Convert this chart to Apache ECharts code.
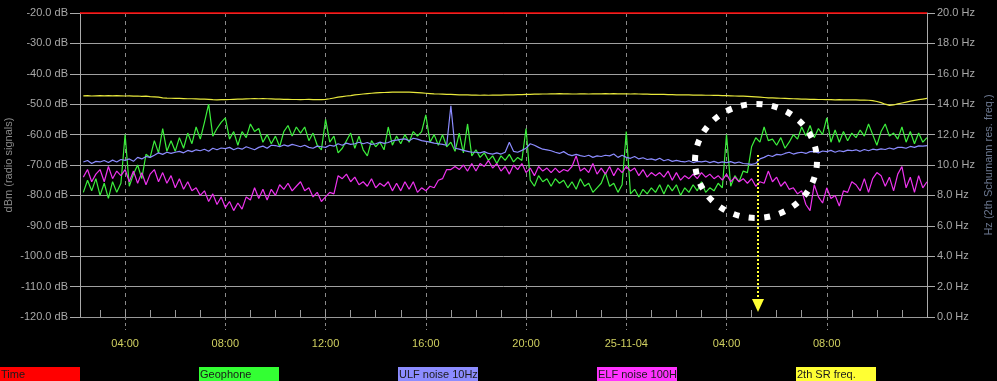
<!DOCTYPE html>
<html><head><meta charset="utf-8">
<script src="https://cdn.jsdelivr.net/npm/echarts@6/dist/echarts.min.js"></script>
<style>html,body{margin:0;padding:0;background:#000;}#c{width:997px;height:381px;}</style>
</head><body><div id="c"></div>
<script>
// time axis: hours since 24-11-04 00:00, one sample every 10 minutes from 02:20
const startHour = 2 + 20 / 60;
const stepHour = 1 / 6;

const geophone = [
  -79, -75, -78.5, -74.5,
  -80, -76, -81, -75.5, -79, -76,
  -60, -77, -73, -70, -74.5, -66.5,
  -67.5, -62, -66, -58, -65.5, -62,
  -65.5, -61, -64.5, -59.5, -63, -57.5,
  -61.5, -56, -50, -60.5, -58, -56,
  -54.5, -61.5, -59, -63.5, -59, -61,
  -56.5, -59, -58, -62.5, -60, -63,
  -60.5, -64, -59, -57, -60.5, -57.5,
  -59.5, -57.5, -62, -59.5, -63.5, -65,
  -55, -62.5, -60.5, -66, -64.5, -62,
  -59.5, -64.5, -60.5, -65, -67, -62,
  -64, -62.5, -65, -57.5, -63.5, -60.5,
  -63, -60, -62.5, -59, -60.5, -59,
  -53.5, -62.5, -60, -63.5, -60, -64,
  -62.5, -65.5, -59.5, -66, -56.5, -67,
  -65, -67.5, -66, -68.5, -67, -69.5,
  -67, -68.5, -66.5, -69, -67.5, -68.5,
  -58, -75, -77, -73.5, -75.5, -74.5,
  -77, -74.5, -76, -75, -77.5, -75.5,
  -78, -74.5, -77, -76, -79, -77.5,
  -76, -72.5, -77, -76, -79, -76.5,
  -59, -79.5, -78, -80.5, -78, -79.5,
  -77.5, -79, -76.5, -79.5, -76.5, -78.5,
  -76.5, -80, -77.5, -79, -76.5, -78.5,
  -75.5, -79, -77.5, -78.5, -76, -77.5,
  -60, -77, -73.5, -75.5, -72, -72.5,
  -64, -61, -62.5, -57.5, -62, -61.5,
  -63.5, -61, -64.5, -62.5, -60, -61.5,
  -57.5, -60.5, -57, -61, -58, -60,
  -54.5, -62.5, -58.5, -62.5, -59, -62,
  -59.5, -61, -58.5, -60.5, -56.5, -60,
  -63.5, -59, -56.5, -60.5, -59.5, -61.5,
  -57.5, -62.5, -59, -63, -59.5, -62.5,
  -61
];

const ulfNoise = [
  -69, -68.5, -69.5, -68.8,
  -69, -68.5, -69.2, -68.4, -69, -68.2,
  -68.5, -68, -68.8, -67.5, -68, -67.2,
  -67.5, -66.8, -66, -66.5, -65.8, -66.2,
  -65.8, -65.5, -66, -65.2, -65.6, -65,
  -65.3, -64.8, -65.5, -64.5, -65, -64.4,
  -64.6, -64.2, -65, -64.4, -64.8, -64,
  -64.5, -65, -64.2, -63.8, -64.5, -63.5,
  -63.6, -64, -63.4, -63.8, -63.2, -63.6,
  -64, -63.5, -64.2, -64.5, -63.8, -64,
  -64.2, -63.5, -63.8, -63, -63.5, -62.8,
  -63.2, -63, -62.5, -63, -62.6, -63.2,
  -63, -62.5, -62.9, -62.6, -62, -61.8,
  -61.6, -61.4, -62, -61.2, -61.5, -62,
  -62.2, -62.5, -62.8, -63, -63.2, -63.5,
  -50.5, -64.5, -64.8, -65.2, -65.5, -65.8,
  -65.8, -66, -65.6, -66.2, -66.4, -66,
  -66.4, -65.8, -62.5, -65.5, -65.8, -65.2,
  -64.5, -63, -63.5, -64.2, -64.8, -65,
  -65.3, -65.8, -66.2, -65.6, -66.5, -66.9,
  -66.5, -66.9, -67.2, -66.8, -67.5, -67,
  -67.2, -66.8, -67, -66.4, -67.5, -66.8,
  -67.5, -67.8, -67.2, -68, -67.6, -68.2,
  -68, -68.4, -67.8, -68.6, -68.2, -68.8,
  -68.5, -68.8, -69, -68.6, -69.2, -68.8,
  -69, -68.7, -69.2, -68.8, -69.3, -69,
  -69.2, -68.9, -69.4, -69, -69.5, -69.6,
  -69.8, -69.5, -68, -67.5, -66.8, -67.2,
  -66.5, -66.7, -66.2, -65.8, -66.4, -66,
  -65.8, -66.2, -65.6, -65.5, -66, -65.4,
  -65.6, -65.2, -65.8, -65.3, -65.6, -65.1,
  -65.3, -65, -65.5, -64.9, -65.3, -64.8,
  -65, -64.7, -64.9, -64.4, -64.8, -64.2,
  -64.2, -64.5, -63.9, -64.2, -63.7, -63.8,
  -63.6
];

const elfNoise = [
  -74, -71.5, -75.5, -73,
  -71.5, -75.5, -70.5, -74.5, -72, -73.5,
  -71.5, -75.5, -72, -76, -72.5, -76.5,
  -73, -71.5, -75.5, -72.5, -76, -73.5,
  -77.5, -74.5, -78, -75.5, -78.5, -77.5,
  -80, -78.5, -82, -79.5, -83, -80.5,
  -84, -82, -85, -82.5, -84.5, -80.5,
  -81.5, -77.5, -81, -78, -81.5, -78,
  -80, -76.5, -78, -76, -78.5, -77,
  -75.5, -78.5, -77.5, -80.5, -79, -82,
  -80.5, -79, -79.5, -73.5, -74.5, -73,
  -75.5, -74, -76.5, -75.5, -77, -74.5,
  -77.5, -76, -77, -75.5, -78.5, -76,
  -78.5, -75.5, -78, -75.5, -79, -77.5,
  -78.5, -77, -77.5, -75, -74.5, -71.5,
  -71.5, -70.5, -71.5, -70, -72, -69.5,
  -72, -69.5, -70.5, -68.5, -71, -69.5,
  -72, -70.5, -73, -70, -71.5, -69.5,
  -72.5, -71, -73.5, -70.5, -72, -71,
  -72.5, -71, -72.5, -71.5, -72, -70.5,
  -67, -72, -71, -72.5, -69.5, -73,
  -71, -73, -70.5, -73.5, -71, -72.5,
  -70.5, -72, -71, -73.5, -71.5, -74,
  -72.5, -73.5, -72.5, -74, -72, -75,
  -72.5, -75, -73.5, -74.5, -73, -74.5,
  -72.5, -74, -73, -74.5, -73.5, -75,
  -73, -75.5, -74, -75.5, -74.5, -76,
  -74.5, -77, -75.5, -76, -72, -75.5,
  -74, -77, -75.5, -78, -77.5, -79.5,
  -78.5, -83, -85, -76.5, -80.5, -82.5,
  -77.5, -81, -80, -83.5, -78.5, -79,
  -75.5, -76.5, -78.5, -74.5, -79, -74.5,
  -72.5, -73.5, -77, -74, -78.5, -73,
  -70.5, -77.5, -74, -79, -73.5, -77.5,
  -75.5
];

const srFreq = [
  14.55, 14.56, 14.54, 14.55,
  14.56, 14.55, 14.57, 14.55, 14.56, 14.55,
  14.54, 14.55, 14.53, 14.54, 14.52, 14.53,
  14.5, 14.48, 14.46, 14.42, 14.4, 14.39,
  14.38, 14.38, 14.37, 14.36, 14.36, 14.35,
  14.34, 14.33, 14.32, 14.3, 14.29, 14.3,
  14.3, 14.31, 14.32, 14.33, 14.34, 14.35,
  14.36, 14.37, 14.36, 14.37, 14.36, 14.35,
  14.34, 14.33, 14.32, 14.32, 14.31, 14.31,
  14.3, 14.31, 14.32, 14.3, 14.31, 14.3,
  14.32, 14.36, 14.41, 14.46, 14.5, 14.54,
  14.57, 14.61, 14.64, 14.67, 14.7, 14.72,
  14.74, 14.76, 14.77, 14.78, 14.79, 14.8,
  14.8, 14.8, 14.79, 14.78, 14.76, 14.74,
  14.72, 14.7, 14.68, 14.67, 14.66, 14.65,
  14.64, 14.63, 14.62, 14.62, 14.61, 14.6,
  14.6, 14.59, 14.6, 14.59, 14.6, 14.6,
  14.6, 14.61, 14.62, 14.62, 14.63, 14.63,
  14.64, 14.65, 14.66, 14.66, 14.67, 14.67,
  14.68, 14.68, 14.69, 14.68, 14.68, 14.67,
  14.67, 14.68, 14.68, 14.67, 14.68, 14.68,
  14.68, 14.69, 14.68, 14.69, 14.68, 14.68,
  14.68, 14.67, 14.68, 14.67, 14.66, 14.66,
  14.65, 14.65, 14.64, 14.64, 14.63, 14.63,
  14.62, 14.62, 14.61, 14.61, 14.6, 14.6,
  14.6, 14.59, 14.59, 14.58, 14.58, 14.57,
  14.56, 14.55, 14.54, 14.53, 14.53, 14.52,
  14.5, 14.48, 14.46, 14.44, 14.42, 14.41,
  14.4, 14.39, 14.38, 14.37, 14.36, 14.35,
  14.34, 14.33, 14.32, 14.32, 14.31, 14.31,
  14.3, 14.3, 14.29, 14.3, 14.29, 14.29,
  14.28, 14.28, 14.27, 14.27, 14.26, 14.24,
  14.18, 14.1, 14.0, 13.92, 13.95, 14.02,
  14.08, 14.14, 14.2, 14.25, 14.3, 14.34,
  14.38
];

const xTickValues = [4, 8, 12, 16, 20, 24, 28, 32];
const xTickLabels = ['04:00', '08:00', '12:00', '16:00', '20:00', '25-11-04', '04:00', '08:00'];
const hourTicks = [3,4,5,6,7,8,9,10,11,12,13,14,15,16,17,18,19,20,21,22,23,24,25,26,27,28,29,30,31,32,33,34,35];
const seriesNames = ['Time', 'Geophone', 'ULF noise 10Hz', 'ELF noise 100H', '2th SR freq.'];
const lineColors = ['#ff0000', '#3cee3c', '#8c8cff', '#ee33ee', '#e8e83c'];
const legendColors = ['#ff0000', '#33ff33', '#8c8cff', '#ff33ff', '#ffff33'];

const toPairs = arr => arr.map((v, i) => [startHour + i * stepHour, v]);

const chart = echarts.init(document.getElementById('c'), null, { renderer: 'canvas' });
const FONT = 'Liberation Sans';

chart.setOption({
  backgroundColor: '#000',
  animation: false,
  grid: { left: 80, right: 70, top: 13, bottom: 64, containLabel: false, outerBoundsMode: 'none' },
  legend: {
    left: -5, top: 367, padding: 0, itemWidth: 0, itemHeight: 0, itemGap: 114, icon: 'rect',
    selectedMode: false,
    data: seriesNames.map((n, i) => ({
      name: n,
      textStyle: {
        backgroundColor: legendColors[i], color: '#1a1a1a', width: 79, height: 14, lineHeight: 14,
        padding: [1, 0, 0, 1], fontFamily: FONT, fontSize: 11
      }
    }))
  },
  xAxis: [
    {
      type: 'value', min: 2.2, max: 36,
      axisLine: { show: true, lineStyle: { color: '#999', width: 1 } },
      axisTick: { show: true, customValues: xTickValues, length: 13, lineStyle: { color: '#888', type: [3, 3] } },
      axisLabel: {
        customValues: xTickValues, margin: 21, color: '#d0d060', fontFamily: FONT, fontSize: 11,
        formatter: v => xTickLabels[xTickValues.indexOf(v)]
      },
      splitLine: { show: true, lineStyle: { color: '#8a8a8a', type: [4, 4], width: 1 } }
    },
    {
      type: 'value', min: 2.2, max: 36, position: 'bottom',
      axisLine: { show: false },
      axisTick: { show: true, inside: true, customValues: hourTicks, length: 7, lineStyle: { color: '#999' } },
      axisLabel: { show: false },
      splitLine: { show: false }
    }
  ],
  yAxis: [
    {
      type: 'value', min: -120, max: -20, interval: 10,
      name: 'dBm (radio signals)', nameLocation: 'middle', nameGap: 66, nameRotate: 90, nameMoveOverlap: false,
      nameTextStyle: { color: '#8a8a8a', fontFamily: FONT, fontSize: 11 },
      axisLine: { show: true, lineStyle: { color: '#aaa' } },
      axisTick: { show: true, length: 10, lineStyle: { color: '#aaa' } },
      axisLabel: { margin: 12, color: '#a8a8a8', fontFamily: FONT, fontSize: 11, formatter: v => v.toFixed(1) + ' dB' },
      splitLine: { show: true, lineStyle: { color: '#a0a0a0', width: 1 } }
    },
    {
      type: 'value', min: 0, max: 20, interval: 2, position: 'right',
      name: 'Hz (2th Schumann res. freq.)', nameLocation: 'middle', nameGap: 56, nameRotate: 90, nameMoveOverlap: false,
      nameTextStyle: { color: '#6c7890', fontFamily: FONT, fontSize: 11 },
      axisLine: { show: true, lineStyle: { color: '#aaa' } },
      axisTick: { show: true, length: 8, lineStyle: { color: '#aaa' } },
      axisLabel: { margin: 10, color: '#a8a8a8', fontFamily: FONT, fontSize: 11, formatter: v => v.toFixed(1) + ' Hz' },
      splitLine: { show: false }
    }
  ],
  series: [
    {
      name: seriesNames[0], type: 'line', data: [], color: lineColors[0], showSymbol: false,
      markLine: { silent: true, symbol: 'none', label: { show: false }, lineStyle: { color: lineColors[0], type: 'solid', width: 1.5 }, data: [{ yAxis: -20 }] }
    },
    { name: seriesNames[4], type: 'line', yAxisIndex: 1, data: toPairs(srFreq), color: lineColors[4], showSymbol: false, lineStyle: { width: 1.2 }, z: 2 },
    { name: seriesNames[1], type: 'line', data: toPairs(geophone), color: lineColors[1], showSymbol: false, lineStyle: { width: 1.2 }, z: 3 },
    { name: seriesNames[2], type: 'line', data: toPairs(ulfNoise), color: lineColors[2], showSymbol: false, lineStyle: { width: 1.2 }, z: 4 },
    { name: seriesNames[3], type: 'line', data: toPairs(elfNoise), color: lineColors[3], showSymbol: false, lineStyle: { width: 1.2 }, z: 3 }
  ],
  graphic: [
    { type: 'ellipse', z: 100, shape: { cx: 756, cy: 161, rx: 61, ry: 57 },
      style: { fill: 'none', stroke: '#ffffff', lineWidth: 6, lineDash: [6, 9.5] } },
    { type: 'line', z: 100, shape: { x1: 758, y1: 155, x2: 758, y2: 302 },
      style: { stroke: '#ffff33', lineWidth: 2, lineDash: [2, 2] } },
    { type: 'polygon', z: 100, shape: { points: [[752, 299], [764, 299], [758, 312]] },
      style: { fill: '#ffff33' } }
  ]
});
</script>
</body></html>
